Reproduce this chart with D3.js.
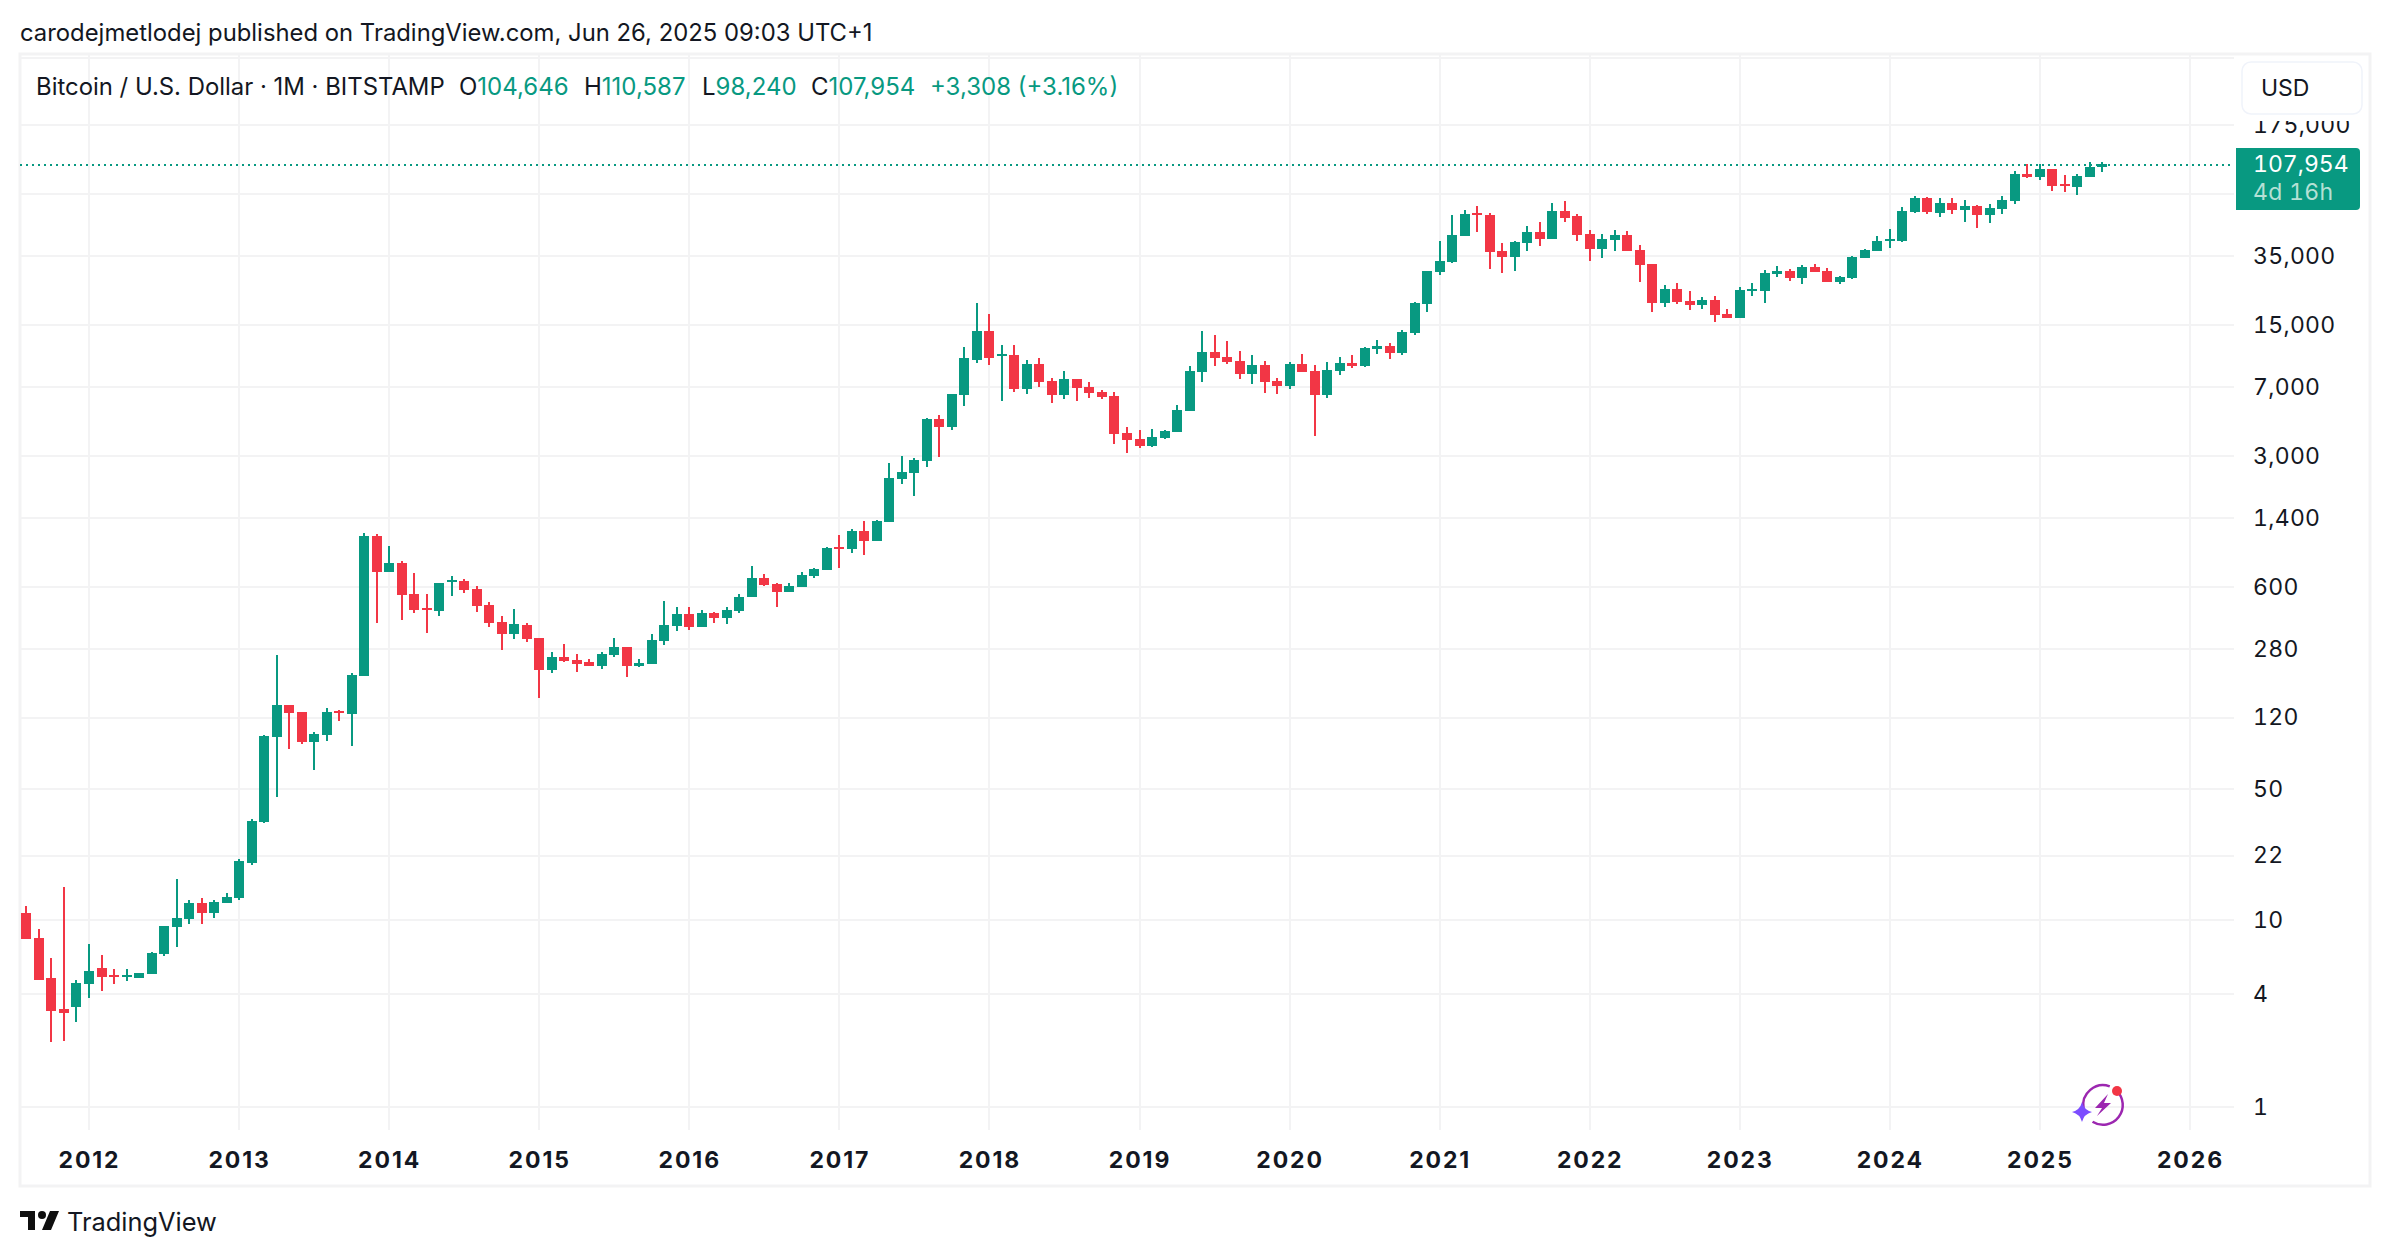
<!DOCTYPE html>
<html>
<head>
<meta charset="utf-8">
<script src="https://cdn.jsdelivr.net/npm/d3@7"></script>
<style>
  html, body { margin: 0; padding: 0; background: #fff; }
  svg { display: block; font-family: Inter, "Noto Sans", sans-serif; }
  text { fill: #131722; }
  .tnum { font-variant-numeric: tabular-nums; font-feature-settings: "tnum"; }
</style>
</head>
<body>
<svg id="chart" width="2390" height="1256"></svg>
<script>
// monthly bars, Aug 2011 to Jun 2025
const firstMonth = new Date(2011, 7, 1)

const opens = [10.86,7.98,4.88,3.34,3.42,4.54,5.52,5.07,4.94,4.88,5.13,6.56,9.14,10.09,12.28,10.86,12.28,13.06,20.08,33.24,
  94.47,140.1,128.6,88.85,96.83,130.1,125.4,200,1118,718.4,802.3,548.1,461.4,444.7,635.3,643.1,582.8,478.8,388.5,335.3,
  374.5,319.2,215.3,252.7,243.5,237.6,226.2,258.9,285.8,226.2,231.8,307.7,369.8,428.6,365.3,433.9,408,444.7,528.2,667.2,
  619.8,561.8,597.3,683.8,736.1,976.7,953,1189,1052,1329,2254,2426,2812,4712,4271,6329,9733,13910,10220,10350,
  6813,9264,7518,6329,7704,6983,6567,6251,3968,3685,3381,3731,4017,5199,8398,10740,10100,9613,8193,9151,
  7518,7069,9264,8501,6329,8501,9379,9039,11140,11550,10610,13570,19380,28710,32480,44700,59310,57860,37180,34530,
  41020,46950,43080,60780,57150,45810,38100,42550,45250,37630,31680,19620,23300,20110,19140,20350,17140,16320,22730,22730,
  28010,29070,26670,30540,29070,25390,26670,34110,37180,42040,42040,60040,71300,59310,67060,61520,64620,57860,62280,68720,
  95770,92300,101800,84700,81630,92300,104646]

const highs = [11.84,8.92,6.24,14.95,4.76,7.42,6.48,5.45,5.45,5.19,6.72,9.26,16.49,12.74,13.06,12.74,13.89,21.09,34.48,96.83,
  258.9,140.1,128.6,100.5,135,131.7,207.5,1160,1146,988.8,822.3,709.6,548.1,627.5,683.8,659,604.7,496.8,418.2,455.8,
  383.8,319.2,268.7,296.5,262.2,246.5,268.7,319.2,285.8,246.5,335.3,502.9,467.1,467.1,450.2,439.3,467.1,548.1,773.2,700.9,
  627.5,627.5,718.4,754.4,976.7,1132,1219,1345,1361,2744,2990,2918,4770,4950,6407,11410,19620,17140,11700,11700,
  9733,9975,7800,8501,7704,7427,6730,6567,4271,4116,4167,4116,5597,9039,13910,13240,12290,10870,10350,9613,
  7800,9496,10480,9151,9496,10100,10350,11410,12450,11990,14080,19860,29070,42040,57860,61520,64620,59310,41020,42040,
  50550,53100,67060,68720,58580,48120,45810,48120,47530,40020,31680,24470,25080,22730,21120,21380,18220,23870,25080,29430,
  30910,29790,31300,31680,30160,27330,34960,38100,44700,48720,63830,73080,72190,71300,71300,69570,65430,66230,73080,99380,
  108300,108300,101800,94610,95770,111000,110587]

const lows = [7.89,4.76,2.22,2.25,2.84,3.82,4.16,4.54,4.71,4.88,5.13,6.40,7.15,9.49,9.49,10.21,12.28,12.74,19.59,32.83,
  45.19,81.52,86.69,62.97,89.95,115.1,84.58,200,383.8,718.4,398.1,433.9,339.4,418.2,534.8,554.9,439.3,365.3,275.4,315.3,
  303.9,152.6,207.5,237.6,210.1,226.2,218,252.7,197.6,223.4,231.8,292.9,347.9,352.1,365.3,383.8,379.1,433.9,528.2,604.7,
  467.1,561.8,597.3,667.2,736.1,754.4,907.3,885.3,1052,1329,2120,1829,2612,2954,4116,5528,9379,9151,5879,6567,
  6407,6983,5737,6025,5879,6099,6025,3466,3103,3299,3340,3685,4017,5199,7427,9039,9264,7704,7246,6487,
  6407,6813,8398,3824,6099,8093,8819,8929,10480,9854,10350,13240,17570,27670,32080,44700,46950,29790,28360,29070,
  37180,39530,43080,53100,42040,32880,34110,37180,37180,25390,17570,18680,19380,18000,18220,15540,16320,16320,21380,19620,
  27000,25700,24770,28710,25390,24770,26340,34110,37180,38570,41520,59310,58580,56460,58580,53100,49320,52450,58580,66230,
  91170,88960,77720,76770,73990,92300,98240]

const closes = [7.89,4.76,3.26,3.18,4.59,5.32,4.94,4.94,5.07,5.19,6.64,9.26,10.21,12.28,10.86,12.44,13.22,20.58,33.65,95.64,
  140.1,127,88.85,98.02,128.6,127,202.5,1118,718.4,802.3,541.4,450.2,450.2,627.5,651,575.7,472.9,383.8,335.3,379.1,
  315.3,215.3,252.7,240.5,231.8,226.2,262.2,285.8,226.2,234.7,311.4,374.5,428.6,365.3,433.9,408,450.2,528.2,667.2,612.3,
  561.8,604.7,692.3,745.2,964.7,953,1189,1052,1345,2281,2456,2847,4712,4271,6407,9975,13910,9975,10480,6813,
  9264,7427,6329,7704,6898,6487,6175,3919,3640,3381,3777,4066,5263,8501,10740,9975,9496,8193,9151,7427,
  7069,9264,8398,6329,8605,9379,9039,11270,11550,10610,13740,19620,29070,32880,45250,58580,57860,36720,34530,41520,
  46950,43080,60780,55760,45250,38100,43080,45250,37180,31300,19620,23300,19860,19140,20350,16930,16320,23010,23300,28360,
  29070,26670,30540,28710,25390,27000,34530,37630,42040,43080,60780,71300,60040,67060,61520,64620,57860,63050,69570,95770,
  92300,101800,82640,82640,93440,104380,107954]

const yearLabels = [2012,2013,2014,2015,2016,2017,2018,2019,2020,2021,2022,2023,2024,2025,2026]
const priceTicks = [175000,35000,15000,7000,3000,1400,600,280,120,50,22,10,4,1]
const priceGrid = [400000,175000,75000,35000,15000,7000,3000,1400,600,280,120,50,22,10,4,1]
const lastPrice = 107954

const publishedText = 'carodejmetlodej published on TradingView.com, Jun 26, 2025 09:03 UTC+1'
const symbolText = 'Bitcoin / U.S. Dollar · 1M · BITSTAMP'
const ohlcLabels = ['O', 'H', 'L', 'C']
const ohlcValues = ['104,646', '110,587', '98,240', '107,954']

const GREEN = '#089981'
const RED = '#F23645'
const GRID = '#f3f3f4'

const svg = d3.select('#chart')

const monthIndex = d => d3.timeMonth.count(firstMonth, d)
const yearIndex = yr => monthIndex(new Date(yr, 0, 1))

const x = d3.scaleLinear().domain([yearIndex(2012), yearIndex(2026)]).range([89, 2190])
const y = d3.scaleLog().domain([1, 175000]).range([1107, 125])

const bars = opens.map((o, i) => ({ i, o, h: highs[i], l: lows[i], c: closes[i] }))

// frame
svg.append('rect')
  .attr('x', 20).attr('y', 54).attr('width', 2350).attr('height', 1132)
  .attr('fill', 'none').attr('stroke', GRID).attr('stroke-width', 3)

// grid
const grid = svg.append('g').attr('shape-rendering', 'crispEdges')
grid.selectAll('.h').data(priceGrid).join('line')
  .attr('x1', 20).attr('x2', 2234)
  .attr('y1', d => Math.round(y(d))).attr('y2', d => Math.round(y(d)))
  .attr('stroke', GRID).attr('stroke-width', 2)
grid.selectAll('.v').data(yearLabels).join('line')
  .attr('x1', d => Math.round(x(yearIndex(d)))).attr('x2', d => Math.round(x(yearIndex(d))))
  .attr('y1', 55).attr('y2', 1130)
  .attr('stroke', GRID).attr('stroke-width', 2)

// candles
const candle = svg.append('g').attr('shape-rendering', 'crispEdges')
  .selectAll('g').data(bars).join('g')
  .attr('fill', d => d.c >= d.o ? GREEN : RED)
candle.append('rect')
  .attr('x', d => Math.round(x(d.i)) - 1).attr('width', 2)
  .attr('y', d => Math.round(y(d.h)))
  .attr('height', d => Math.round(y(d.l)) - Math.round(y(d.h)))
candle.append('rect')
  .attr('x', d => Math.round(x(d.i)) - 5).attr('width', 10)
  .attr('y', d => Math.round(y(Math.max(d.o, d.c))))
  .attr('height', d => Math.max(2, Math.round(y(Math.min(d.o, d.c))) - Math.round(y(Math.max(d.o, d.c)))))

// last price line
svg.append('line')
  .attr('x1', 20).attr('x2', 2234)
  .attr('y1', Math.round(y(lastPrice)) + 1).attr('y2', Math.round(y(lastPrice)) + 1)
  .attr('stroke', GREEN).attr('stroke-width', 2).attr('stroke-dasharray', '2 4')
  .attr('shape-rendering', 'crispEdges')

// axes
const yAxis = svg.append('g')
  .attr('transform', 'translate(2253,0)')
  .call(d3.axisRight(y).tickValues(priceTicks).tickFormat(d3.format(',')).tickSize(0).tickPadding(0))
yAxis.select('.domain').remove()
yAxis.selectAll('text')
  .attr('class', 'tnum')
  .attr('font-family', 'Inter').attr('font-size', 23).style('letter-spacing', '0.3px').attr('fill', '#131722')

const yearTicks = yearLabels.map(yearIndex)
const xAxis = svg.append('g')
  .attr('transform', 'translate(0,1152)')
  .call(d3.axisBottom(x).tickValues(yearTicks)
    .tickFormat(d => yearLabels[yearTicks.indexOf(d)]).tickSize(0).tickPadding(0))
xAxis.select('.domain').remove()
xAxis.selectAll('text')
  .attr('font-family', 'Inter').attr('font-size', 23).attr('font-weight', 700)
  .attr('dy', '0.71em').style('letter-spacing', '1.9px').attr('fill', '#131722')

// usd box, hides the top of the 175,000 label
svg.append('rect')
  .attr('x', 2236).attr('y', 57).attr('width', 132).attr('height', 64).attr('fill', '#fff')
svg.append('rect')
  .attr('x', 2242).attr('y', 62).attr('width', 120).attr('height', 52).attr('rx', 9)
  .attr('fill', '#fff').attr('stroke', '#f0f3fa').attr('stroke-width', 1.5)
svg.append('text').attr('x', 2261).attr('y', 88).attr('dy', '0.36em')
  .attr('font-size', 23).text('USD')

// price tag
svg.append('path')
  .attr('d', 'M2236,148H2356a4,4 0 0 1 4,4V206a4,4 0 0 1 -4,4H2236Z')
  .attr('fill', GREEN)
svg.append('text').attr('class', 'tnum').attr('x', 2253).attr('y', 164).attr('dy', '0.36em')
  .attr('font-size', 23).style('fill', '#fff').text(d3.format(',')(lastPrice))
svg.append('text').attr('class', 'tnum').attr('x', 2253).attr('y', 192).attr('dy', '0.36em')
  .attr('font-size', 23).style('letter-spacing', '0.3px').style('fill', '#b5e0d5').text('4d 16h')

// header
svg.append('text').attr('x', 20).attr('y', 32).attr('dy', '0.36em')
  .attr('font-size', 23.85).text(publishedText)
svg.append('text').attr('x', 36).attr('y', 86).attr('dy', '0.36em')
  .attr('font-size', 23.9).text(symbolText)

const legendX = [459, 584, 702, 811]
ohlcLabels.forEach((lab, i) => {
  const t = svg.append('text').attr('x', legendX[i]).attr('y', 86).attr('dy', '0.36em').attr('font-size', 24)
  t.append('tspan').text(lab)
  t.append('tspan').style('fill', GREEN).text(ohlcValues[i])
})
svg.append('text').attr('x', 930).attr('y', 86).attr('dy', '0.36em').attr('font-size', 24)
  .style('fill', GREEN).text('+3,308 (+3.16%)')

// footer logo
svg.append('path')
  .attr('d', 'M20,1211H35V1230H28V1217H20ZM50,1211H59L51,1230H42Z')
  .attr('fill', '#0f0f0f')
svg.append('circle').attr('cx', 42).attr('cy', 1215).attr('r', 4).attr('fill', '#0f0f0f')
svg.append('text').attr('x', 67).attr('y', 1222).attr('dy', '0.36em')
  .attr('font-size', 25.4).text('TradingView')

// assistant badge
const arc = d3.arc().innerRadius(18.5).outerRadius(21)
const badge = svg.append('g').attr('transform', 'translate(2103,1105)')
badge.append('path').attr('fill', '#9c27b0').attr('d', arc({ startAngle: -1.75, endAngle: 0.35 }))
badge.append('path').attr('fill', '#9c27b0').attr('d', arc({ startAngle: 0.75, endAngle: 3.7 }))
badge.append('path').attr('fill', '#9c27b0').attr('d', 'M5,-11L-8,3H-1L-6,11L8,-2H1Z')
badge.append('circle').attr('cx', 14).attr('cy', -14).attr('r', 5).attr('fill', '#f23645')
badge.append('path').attr('fill', '#7c4dff').attr('d', 'M-21,-3Q-19,5 -11,7Q-19,9 -21,17Q-23,9 -31,7Q-23,5 -21,-3Z')
</script>
</body>
</html>
